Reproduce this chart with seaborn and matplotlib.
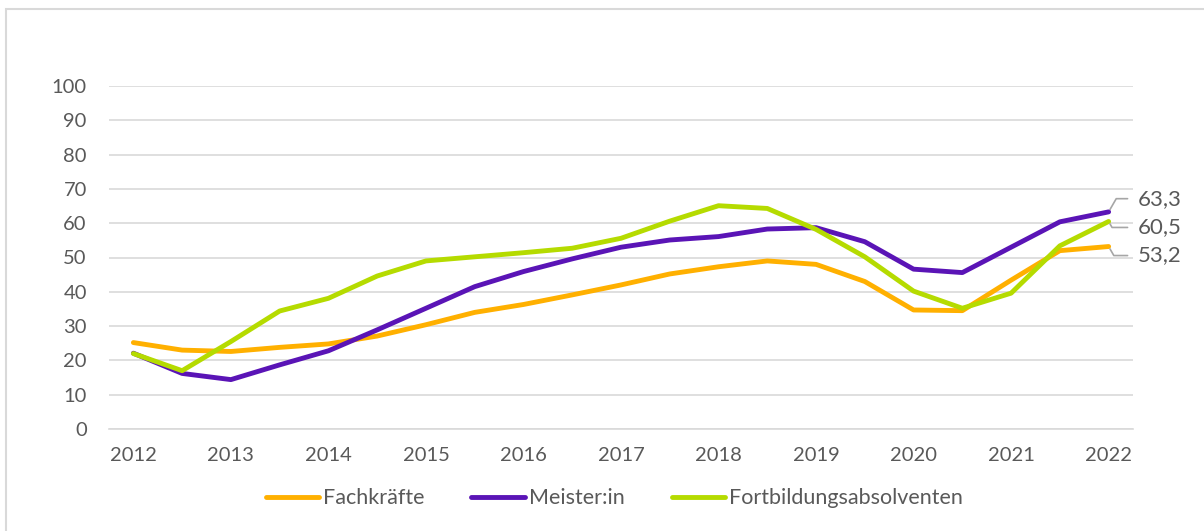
import numpy as np
import pandas as pd
import matplotlib
matplotlib.use("Agg")
import matplotlib.pyplot as plt
from matplotlib.patches import Rectangle
import seaborn as sns

# halbjährliche Werte 2012 - 2022
perioden = ["2012", "", "2013", "", "2014", "", "2015", "", "2016", "", "2017", "",
            "2018", "", "2019", "", "2020", "", "2021", "", "2022"]
fachkraefte = [25.2, 23.0, 22.6, 23.8, 24.8, 27.1, 30.4, 34.0, 36.3, 39.1, 42.0,
               45.2, 47.3, 49.0, 48.0, 43.0, 34.7, 34.5, 43.4, 52.0, 53.2]
meister = [22.1, 16.2, 14.4, 18.7, 22.8, 28.9, 35.2, 41.5, 45.9, 49.6, 53.0,
           55.1, 56.1, 58.3, 58.7, 54.6, 46.6, 45.6, 53.0, 60.4, 63.3]
fortbildung = [22.0, 17.0, 25.5, 34.4, 38.1, 44.6, 49.0, 50.2, 51.4, 52.7, 55.6,
               60.6, 65.1, 64.3, 58.2, 50.2, 40.2, 35.2, 39.6, 53.4, 60.5]

serien = ["Fachkräfte", "Meister:in", "Fortbildungsabsolventen"]
farben = ["#FFB000", "#5A14B6", "#B5DB00"]
label_dy = [-6.5, 9.5, -4.3]    # Versatz der Endwert-Labels in pt
label_winkel = [120, 60, 120]   # Winkel der Führungslinie am Punkt

n = len(perioden)
df = pd.DataFrame({
    "idx": list(range(n)) * 3,
    "wert": fachkraefte + meister + fortbildung,
    "serie": [s for s in serien for _ in range(n)],
})

sns.set_style("white")
plt.rcParams["font.family"] = ["Lato", "DejaVu Sans"]
grau = "#595959"
linie = "#D9D9D9"
fs = 14.5

fig = plt.figure(figsize=(12.04, 5.31), dpi=100)
ax = fig.add_axes([109 / 1204, 1 - 429 / 531, (1133 - 109) / 1204, (429 - 86) / 531])

sns.lineplot(data=df, x="idx", y="wert", hue="serie", hue_order=serien,
             palette=farben, linewidth=3.5, ax=ax, legend=False, sort=False)

ax.set_xlim(-0.5, n - 0.5)
ax.set_ylim(0, 100)
ax.set_yticks(range(0, 101, 10))
ax.yaxis.grid(True, color=linie, linewidth=1.2)
ax.set_axisbelow(True)
ax.tick_params(axis="y", length=0, pad=16, labelsize=fs, labelcolor=grau)

ax.set_xticks(range(0, n, 2))
ax.set_xticklabels(perioden[::2])
ax.set_xticks(np.arange(-0.5, n, 1), minor=True)
ax.tick_params(axis="x", which="major", length=0, pad=13, labelsize=fs, labelcolor=grau)
ax.tick_params(axis="x", which="minor", length=6, width=1.2, color=linie)
ax.set_xlabel("")
ax.set_ylabel("")
for s in ["top", "right", "left"]:
    ax.spines[s].set_visible(False)
ax.spines["bottom"].set_color(linie)
ax.spines["bottom"].set_linewidth(1.2)

# Endwerte mit Führungslinien
for werte, dy, w in zip([fachkraefte, meister, fortbildung], label_dy, label_winkel):
    ax.annotate(f"{werte[-1]:.1f}".replace(".", ","), xy=(n - 1, werte[-1]),
                xytext=(21, dy), textcoords="offset points", ha="left", va="center",
                fontsize=16, color=grau, annotation_clip=False,
                arrowprops=dict(arrowstyle="-", color="#A6A6A6", lw=1.2,
                                shrinkA=5, shrinkB=2, relpos=(0, 0.5),
                                connectionstyle=f"angle,angleA=0,angleB={w},rad=0"))

handles = [plt.Line2D([], [], color=c, linewidth=3.5, solid_capstyle="round") for c in farben]
leg = ax.legend(handles, serien, loc="center", bbox_to_anchor=(0.51, 0.062),
                bbox_transform=fig.transFigure, ncol=3, frameon=False, fontsize=15.5,
                handlelength=2.5, handletextpad=0.15, columnspacing=2.2)
for t in leg.get_texts():
    t.set_color(grau)

fig.patches.append(Rectangle((6 / 1204, -0.1), 1.2, 1.1 - 9 / 531, transform=fig.transFigure,
                             fill=False, edgecolor=linie, linewidth=1.5))

fig.savefig("out.png", dpi=100)
